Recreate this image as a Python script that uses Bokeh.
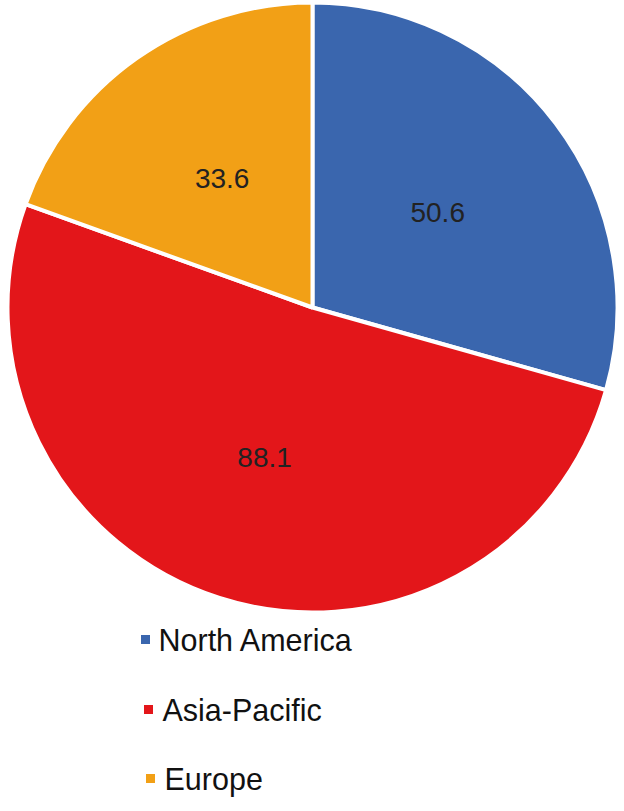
import math
from bokeh.plotting import figure
from bokeh.models import Range1d, ColumnDataSource
from bokeh.core.properties import value
from bokeh.embed import file_html
from bokeh.resources import INLINE

# ---- data ----
regions = ["North America", "Asia-Pacific", "Europe"]
amounts = [50.6, 88.1, 33.6]
labels = ["50.6", "88.1", "33.6"]
colors = ["#3A66AE", "#E3161A", "#F2A016"]

# ---- layout ----
W, H = 620, 800
def X(px):
    return px
def Y(py):
    return H - py

cx, cy = X(312), Y(307)
R = 305

total = sum(amounts)
starts, ends, lx, ly = [], [], [], []
cum = 0.0
for a in amounts:
    s = math.pi / 2 - cum / total * 2 * math.pi
    cum += a
    e = math.pi / 2 - cum / total * 2 * math.pi
    starts.append(s)
    ends.append(e)
    mid = (s + e) / 2
    lx.append(cx + 0.515 * R * math.cos(mid))
    ly.append(cy + 0.515 * R * math.sin(mid))

src = ColumnDataSource(dict(start=starts, end=ends, color=colors,
                            lx=lx, ly=ly, label=labels))

p = figure(width=W, height=H, x_range=Range1d(0, W), y_range=Range1d(0, H),
           output_backend="svg", toolbar_location=None, min_border=0)
p.axis.visible = False
p.grid.visible = False
p.outline_line_color = None
p.background_fill_color = "white"

p.wedge(x=cx, y=cy, radius=R, radius_units="screen",
        start_angle="start", end_angle="end", direction="clock",
        fill_color="color", line_color="white", line_width=4, source=src)

p.text(x="lx", y="ly", text="label", source=src,
       text_font=value("Liberation Sans"), text_font_size="28px",
       text_color="#222222", text_align="center", text_baseline="middle")

# legend (manual, matching the staggered layout)
leg_sq_x = [X(145), X(148), X(150)]
leg_y = [Y(639), Y(709), Y(778)]
leg_tx = [X(158), X(162), X(164)]
p.scatter(x=leg_sq_x, y=leg_y, marker="square", size=9,
          fill_color=colors, line_color=None)
p.text(x=leg_tx, y=leg_y, text=regions,
       text_font=value("Liberation Sans"), text_font_size="30.5px",
       text_color="#111111", text_align="left", text_baseline="middle")

open("out.html", "w").write(file_html(p, INLINE))
